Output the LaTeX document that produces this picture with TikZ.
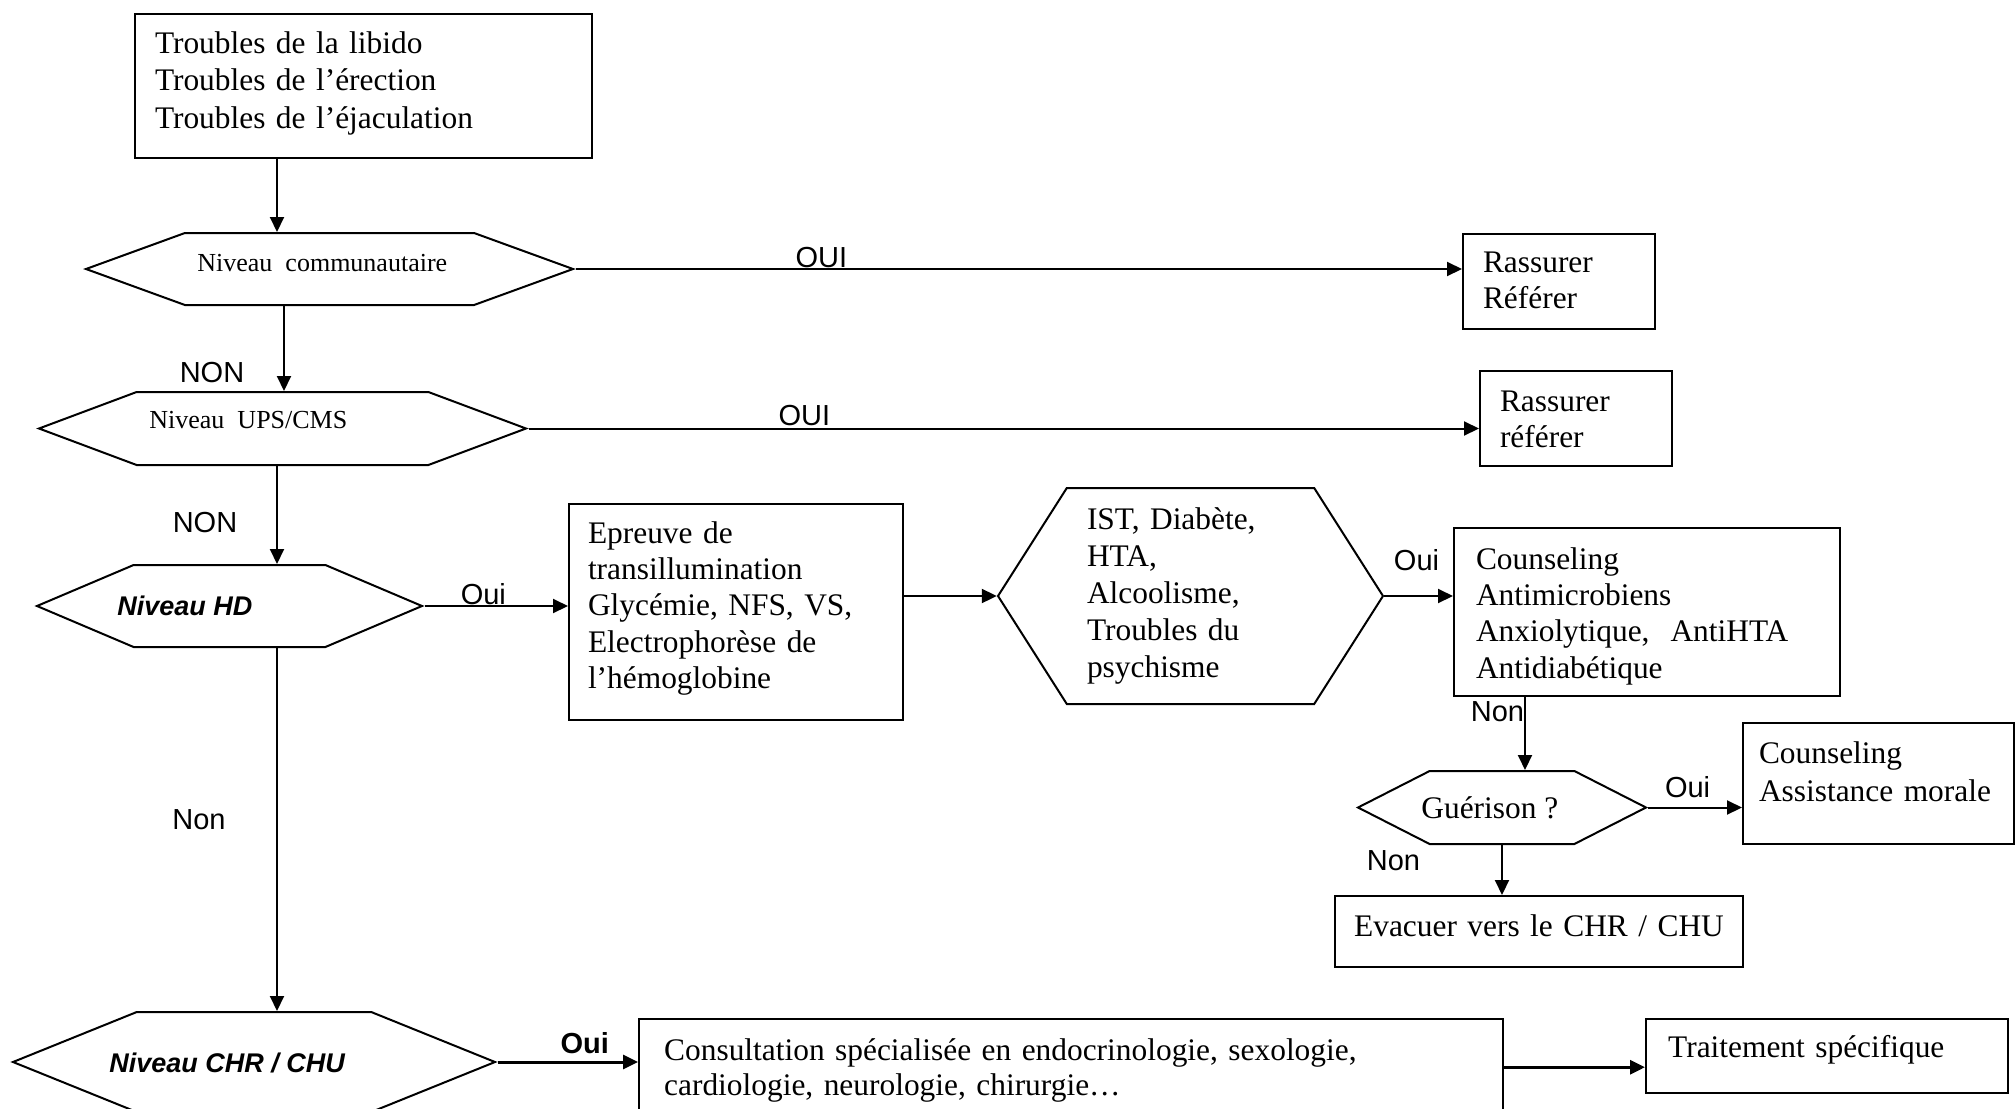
\documentclass[tikz,border=0pt]{standalone}
\usepackage{fontspec}
\setmainfont{Liberation Serif}
\newfontfamily\lblfont{Liberation Sans}
\usetikzlibrary{arrows.meta,shapes.symbols}

\newcommand\txtsize{\fontsize{15.7}{18.4}\selectfont}
\newcommand\smallsize{\fontsize{13}{15}\selectfont}

\tikzset{
  box/.style={draw, line width=1pt, anchor=north west, inner xsep=10pt, inner ysep=0pt, align=left, font=\txtsize},
  hexa/.style={draw, line width=1pt, signal, signal to=west and east, inner sep=0pt, align=left},
  hextext/.style={anchor=base west, inner sep=0pt},
  arr/.style={-{Triangle[length=7.5pt,width=7pt]}, line width=1pt},
  lbl/.style={font=\lblfont\fontsize{14.5}{17}\selectfont, inner sep=1pt},
}

\begin{document}
\begin{tikzpicture}[x=0.5pt, y=-0.5pt, line join=miter]

\useasboundingbox (0,0) rectangle (2015,1109);
\clip (0,0) rectangle (2015,1109);

% --- vertical spine positions ---
\coordinate (spineA) at (277,0);
\coordinate (spineB) at (284,0);
\coordinate (spineC) at (1525,0);

% --- Top box ---
\node[box, text width=208.5pt, text height=19.5pt, text depth=52.5pt, font=\fontsize{15.7}{18.9}\selectfont] (troubles) at (134,13)
  {Troubles de la libido\\Troubles de l’érection\\Troubles de l’éjaculation};

% --- Level hexagons ---
\node[hexa, minimum width=243.5pt, minimum height=36pt, signal pointer angle=40] (communaut) at (329.5,269) {};
\node[hextext, font=\smallsize] (communauttxt) at (197,271) {Niveau\ \ communautaire};

\node[hexa, minimum width=243.5pt, minimum height=36.5pt, signal pointer angle=41] (ups) at (282.5,428.5) {};
\node[hextext, font=\smallsize] (upstxt) at (149,428) {Niveau\ \ UPS/CMS};

\node[hexa, minimum width=192.5pt, minimum height=41pt, signal pointer angle=46] (hd) at (229.5,606) {};
\node[hextext, font=\lblfont\bfseries\itshape\fontsize{13.5}{16}\selectfont] (hdtxt) at (117,615) {Niveau HD};

\node[hexa, minimum width=241pt, minimum height=50pt, signal pointer angle=44] (chr) at (254,1062) {};
\node[hextext, font=\lblfont\bfseries\itshape\fontsize{13.5}{16}\selectfont] (chrtxt) at (109,1072) {Niveau CHR / CHU};

% --- Rassurer boxes ---
\node[box, text width=76pt, text height=19pt, text depth=28.5pt] (rassurer1) at (1462,233) {Rassurer\\Référer};
\node[box, text width=76pt, text height=20pt, text depth=27.5pt] (rassurer2) at (1479,370) {Rassurer\\référer};

% --- HD branch ---
\node[box, inner xsep=9.5pt, text width=148pt, text height=19.5pt, text depth=88.5pt, font=\fontsize{15.7}{18.2}\selectfont] (epreuve) at (568,503)
  {Epreuve de\\transillumination\\Glycémie, NFS, VS,\\Electrophorèse de\\l’hémoglobine};

\node[hexa, minimum width=192.5pt, minimum height=108pt, signal pointer angle=115, text width=103.5pt, font=\txtsize] (ist) at (1190.5,596)
  {IST, Diabète,\\HTA,\\Alcoolisme,\\Troubles du\\psychisme};

\node[box, inner xsep=11pt, text width=171pt, text height=20.5pt, text depth=63.5pt, font=\fontsize{15.7}{18.2}\selectfont] (counsel) at (1453,527)
  {Counseling\\Antimicrobiens\\Anxiolytique,\ \ AntiHTA\\Antidiabétique};

\node[hexa, minimum width=144pt, minimum height=36.5pt, signal pointer angle=54] (guerison) at (1502,807.5) {};
\node[hextext, font=\txtsize] (guerisontxt) at (1421,818) {Guérison ?};

\node[box, inner xsep=8pt, text width=119.5pt, text height=20pt, text depth=40.5pt, font=\fontsize{15.7}{19}\selectfont] (counsel2) at (1742,722)
  {Counseling\\Assistance morale};

\node[box, align=center, inner xsep=2pt, text width=200pt, text height=20pt, text depth=15.5pt] (evacuer) at (1334,895) {Evacuer vers le CHR / CHU};

% --- CHR / CHU branch ---
\node[box, line width=1.2pt, inner xsep=12.5pt, text width=407pt, text height=20.5pt, text depth=35.5pt, font=\fontsize{15.7}{17.8}\selectfont] (consult) at (638,1018)
  {Consultation spécialisée en endocrinologie, sexologie,\\cardiologie, neurologie, chirurgie…};
\node[box, line width=1.2pt, inner xsep=11pt, text width=159pt, text height=19.3pt, text depth=17.7pt] (traitement) at (1645,1018) {Traitement spécifique};

% --- Connectors ---
\draw[arr] (troubles.south -| spineA) -- (communaut.north -| spineA);
\draw[arr] (communaut.east) -- (communaut.east -| rassurer1.west) node[lbl, pos=.277, above, inner ysep=0pt] (oui1) {OUI};
\draw[arr] (communaut.south -| spineB) -- (ups.north -| spineB) node[lbl, pos=.9, anchor=base, xshift=-36pt] (non1) {NON};
\draw[arr] (ups.east) -- (ups.east -| rassurer2.west) node[lbl, pos=.29, above] (oui2) {OUI};
\draw[arr] (ups.south -| spineA) -- (hd.north -| spineA) node[lbl, pos=.68, anchor=base, xshift=-36pt] (non2) {NON};
\draw[arr] (hd.east) -- (hd.east -| epreuve.west) node[lbl, pos=.41, above, inner ysep=0pt] (oui3) {Oui};
\draw[arr] (ist.west -| epreuve.east) -- (ist.west);
\draw[arr] (ist.east) -- (ist.east -| counsel.west) node[lbl, pos=.47, above, yshift=11pt] (oui4) {Oui};
\draw[arr] (counsel.south -| spineC) -- (guerison.north -| spineC) node[lbl, pos=0, anchor=north east, inner xsep=0pt, yshift=-1pt] (non3) {Non};
\draw[arr] (guerison.east) -- (guerison.east -| counsel2.west) node[lbl, pos=.42, above, yshift=3.5pt] (oui5) {Oui};
\draw[arr] (guerison.south) -- (guerison.south |- evacuer.north) node[lbl, pos=.5, anchor=base east, xshift=-39.5pt] (non4) {Non};
\draw[arr] (hd.south -| spineA) -- (chr.north -| spineA) node[lbl, pos=.5, anchor=base, xshift=-39pt] (non5) {Non};
\draw[arr, line width=1.5pt] (chr.east) -- (chr.east -| consult.west) node[lbl, pos=.62, above, yshift=2.5pt, font=\lblfont\bfseries\fontsize{14.5}{17}\selectfont] (oui6) {Oui};
\draw[arr, line width=1.5pt] ([yshift=-5.5pt]traitement.west -| consult.east) -- ([yshift=-5.5pt]traitement.west);

\end{tikzpicture}
\end{document}
